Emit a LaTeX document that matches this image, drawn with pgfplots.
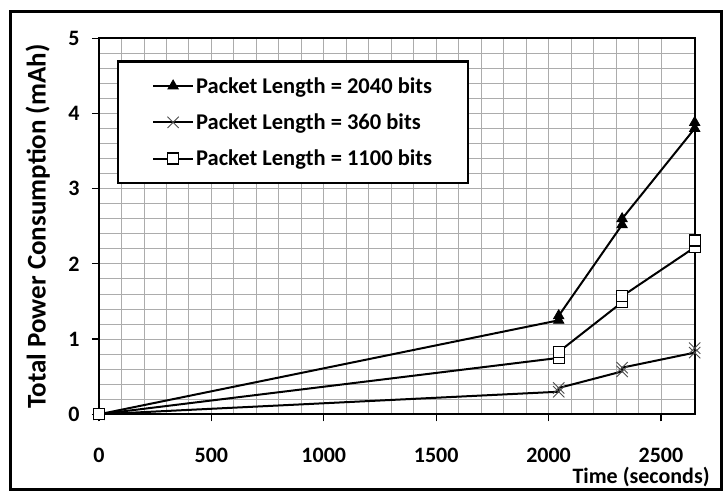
\documentclass[border=0pt]{standalone}
\usepackage{fontspec}
\setmainfont{Carlito}
\usepackage{pgfplots}
\pgfplotsset{compat=1.18}

\begin{document}
\begin{tikzpicture}[x=1pt,y=1pt]
\useasboundingbox (-99,-79.7) rectangle (625,414.3);
\draw[line width=3pt] (-88,-75) rectangle (622.5,403);
\begin{axis}[
    at={(0,0)}, anchor=origin,
    scale only axis,
    width=595.7pt, height=376pt,
    xmin=0, xmax=2650,
    ymin=0, ymax=5,
    xtick={0,500,...,2500},
    ytick={0,1,...,5},
    minor x tick num=4,
    minor y tick num=4,
    grid=both,
    major grid style={draw=gray!65, line width=0.9pt},
    minor grid style={draw=gray!65, line width=0.9pt},
    axis line style={line width=1.8pt},
    tick pos=left,
    tick align=outside,
    major tick length=7pt,
    minor tick length=0pt,
    tick style={line width=1.2pt, black},
    /pgf/number format/assume math mode=true,
    /pgf/number format/1000 sep={},
    ticklabel style={font=\fontsize{22}{26}\selectfont\bfseries},
    xticklabel style={yshift=-23pt},
    yticklabel style={xshift=-9pt},
    xlabel={Time (seconds)},
    xlabel style={font=\fontsize{22}{26}\selectfont\bfseries, at={(rel axis cs:0.91,0)}, anchor=center, yshift=-63pt},
    ylabel={Total Power Consumption (mAh)},
    ylabel style={font=\fontsize{27}{31}\selectfont\bfseries, at={(axis description cs:-0.103,0.5)}, anchor=center},
    legend cell align=left,
    legend style={at={(rel axis cs:0.03,0.942)}, anchor=north west, draw=black, line width=2.5pt,
        font=\fontsize{22.5}{26}\selectfont\bfseries, inner xsep=34pt, inner ysep=14pt,
        row sep=15pt},
    legend image code/.code={\draw[mark repeat=2,mark phase=2,#1] plot coordinates {(0pt,0pt) (20pt,0pt) (40pt,0pt)};},
]
\addplot[black, line width=2pt, mark=triangle*, mark size=6pt, mark options={solid, line width=0.8pt, fill=black}]
    coordinates {(0,0) (2045,1.25) (2045,1.31) (2327,2.52) (2327,2.6) (2650,3.8) (2650,3.88)};
\addlegendentry{Packet Length = 2040 bits}
\addplot[black, line width=2pt, mark=x, mark size=8pt, mark options={solid, line width=0.9pt, draw=black!70}]
    coordinates {(0,0) (2045,0.3) (2045,0.35) (2327,0.57) (2327,0.62) (2650,0.82) (2650,0.88)};
\addlegendentry{Packet Length = 360 bits}
\addplot[black, line width=2pt, mark=square*, mark size=5.5pt, mark options={solid, line width=1.2pt, fill=white}]
    coordinates {(0,0) (2045,0.75) (2045,0.83) (2327,1.49) (2327,1.57) (2650,2.22) (2650,2.31)};
\addlegendentry{Packet Length = 1100 bits}
\end{axis}
\end{tikzpicture}
\end{document}
